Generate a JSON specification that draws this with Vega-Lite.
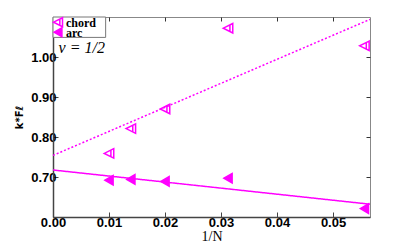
{
  "$schema": "https://vega.github.io/schema/vega-lite/v6.json",
  "autosize": "none",
  "width": 317,
  "height": 200,
  "padding": {"left": 53, "top": 17, "right": 39, "bottom": 28},
  "background": "white",
  "config": {
    "view": {"stroke": "#888888", "strokeWidth": 1},
    "axis": {
      "labelFont": "Liberation Sans", "labelFontWeight": "bold", "labelFontSize": 13, "labelColor": "black",
      "domainColor": "#444444", "domainWidth": 1.5, "tickColor": "#444444", "tickSize": -5, "tickWidth": 1, "grid": false,
      "titleColor": "black", "labelFlush": false, "labelOverlap": false, "zindex": 1
    }
  },
  "datasets": {
    "pts": [
      {"invN": 0.0100, "k": 0.759, "series": "chord"},
      {"invN": 0.0139, "k": 0.821, "series": "chord"},
      {"invN": 0.0200, "k": 0.870, "series": "chord"},
      {"invN": 0.03125, "k": 1.072, "series": "chord"},
      {"invN": 0.0556, "k": 1.028, "series": "chord"},
      {"invN": 0.0100, "k": 0.692, "series": "arc"},
      {"invN": 0.0139, "k": 0.694, "series": "arc"},
      {"invN": 0.0200, "k": 0.689, "series": "arc"},
      {"invN": 0.03125, "k": 0.697, "series": "arc"},
      {"invN": 0.0556, "k": 0.621, "series": "arc"}
    ],
    "fits": [
      {"invN": 0.0, "k": 0.754, "series": "chord"},
      {"invN": 0.0566, "k": 1.094, "series": "chord"},
      {"invN": 0.0, "k": 0.7175, "series": "arc"},
      {"invN": 0.0566, "k": 0.632, "series": "arc"}
    ],
    "legendbox": [{"x0": 0.0, "x1": 0.0094, "k0": 1.049, "k1": 1.1}],
    "legenditems": [
      {"invN": 0.0009, "k": 1.087, "lx": 0.0023, "series": "chord"},
      {"invN": 0.0009, "k": 1.062, "lx": 0.0023, "series": "arc"}
    ],
    "label": [{"invN": 0.001, "k": 1.023, "txt": "ν = 1/2"}]
  },
  "resolve": {"axis": {"x": "independent", "y": "independent"}},
  "layer": [
    {
      "data": {"name": "fits"},
      "mark": {"type": "line", "color": "#ff00ff", "strokeWidth": 1.5},
      "encoding": {
        "x": {"field": "invN", "type": "quantitative", "scale": {"domain": [0, 0.0566], "nice": false, "zero": false},
          "axis": {"orient": "bottom", "values": [0, 0.01, 0.02, 0.03, 0.04, 0.05], "format": ".2f", "title": "1/N",
            "titleFont": "Liberation Serif", "titleFontSize": 14, "titleFontWeight": "normal", "titlePadding": 0, "labelPadding": 4}},
        "y": {"field": "k", "type": "quantitative", "scale": {"domain": [0.6, 1.1], "nice": false, "zero": false},
          "axis": {"orient": "left", "values": [0.7, 0.8, 0.9, 1.0], "format": ".2f", "title": "k*Fℓ",
            "titleFont": "DejaVu Sans", "titleFontSize": 10, "titleFontWeight": "bold", "titlePadding": 6, "labelPadding": 2}},
        "detail": {"field": "series"},
        "strokeDash": {"field": "series", "type": "nominal", "scale": {"domain": ["chord", "arc"], "range": [[2, 2], [1, 0]]}, "legend": null}
      }
    },
    {
      "data": {"name": "pts"},
      "mark": {"type": "point", "filled": true, "stroke": "#ff00ff", "strokeWidth": 1.5, "size": 90, "opacity": 1},
      "encoding": {
        "x": {"field": "invN", "type": "quantitative", "axis": null},
        "y": {"field": "k", "type": "quantitative", "axis": null},
        "shape": {"field": "series", "type": "nominal", "legend": null,
          "scale": {"domain": ["chord", "arc"], "range": ["M1,-1L-1,0L1,1Z M0.4,-0.6L0.4,0.6", "triangle-left"]}},
        "fill": {"field": "series", "type": "nominal", "legend": null,
          "scale": {"domain": ["chord", "arc"], "range": ["transparent", "#ff00ff"]}}
      }
    },
    {
      "data": {"name": "legendbox"},
      "mark": {"type": "rect", "fill": "white", "stroke": "#777777", "strokeWidth": 1},
      "encoding": {
        "x": {"field": "x0", "type": "quantitative", "axis": null},
        "x2": {"field": "x1"},
        "y": {"field": "k0", "type": "quantitative", "axis": null},
        "y2": {"field": "k1"}
      }
    },
    {
      "data": {"name": "legenditems"},
      "mark": {"type": "point", "filled": true, "stroke": "#ff00ff", "strokeWidth": 1.5, "size": 80, "opacity": 1},
      "encoding": {
        "x": {"field": "invN", "type": "quantitative", "axis": null},
        "y": {"field": "k", "type": "quantitative", "axis": null},
        "shape": {"field": "series", "type": "nominal", "legend": null},
        "fill": {"field": "series", "type": "nominal", "legend": null}
      }
    },
    {
      "data": {"name": "legenditems"},
      "mark": {"type": "text", "align": "left", "baseline": "middle", "font": "Liberation Serif", "fontSize": 12, "fontWeight": "bold", "color": "black", "dy": 1},
      "encoding": {
        "x": {"field": "lx", "type": "quantitative", "axis": null},
        "y": {"field": "k", "type": "quantitative", "axis": null},
        "text": {"field": "series"}
      }
    },
    {
      "data": {"name": "label"},
      "mark": {"type": "text", "align": "left", "baseline": "middle", "font": "Liberation Serif", "fontSize": 16, "fontStyle": "italic", "color": "black"},
      "encoding": {
        "x": {"field": "invN", "type": "quantitative", "axis": {"orient": "top", "labels": false, "title": null, "values": [0.01, 0.02, 0.03, 0.04, 0.05], "domain": false, "tickColor": "#333333", "tickSize": -4}},
        "y": {"field": "k", "type": "quantitative", "axis": {"orient": "right", "labels": false, "title": null, "values": [0.7, 0.8, 0.9, 1.0], "domain": false, "tickColor": "#333333", "tickSize": -4}},
        "text": {"field": "txt"}
      }
    }
  ]
}
